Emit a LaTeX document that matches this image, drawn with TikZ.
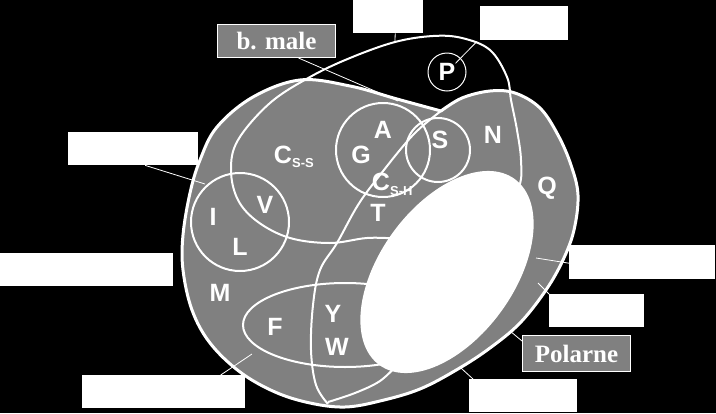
\documentclass[tikz,border=0pt]{standalone}
\usepackage{fontspec}
\setmainfont{Liberation Sans}
\newfontfamily\serifbold{Liberation Serif}
\begin{document}
\begin{tikzpicture}[x=1pt,y=-1pt,
  lab/.style={font=\fontsize{25}{25}\selectfont\bfseries, text=white, inner sep=0pt},
  sublab/.style={font=\fontsize{13}{13}\selectfont\bfseries, text=white, inner sep=0pt},
  blank/.style={fill=white, draw=none, anchor=north west, inner sep=0pt},
  graybox/.style={fill=gray, draw=white, line width=1pt, anchor=north west, inner sep=0pt,
     text=white, font=\fontsize{25}{25}\serifbold\bfseries},
  conn/.style={white, line width=0.8pt},
  setline/.style={white, line width=2pt},
  outline/.style={white, line width=3pt}]
\useasboundingbox (0,0) rectangle (716,413);
\fill[black] (0,0) rectangle (716,413);
% outer blob
\def\outerpts{(441,111) (462,98) (490,91) (515,93) (540,108) (558,135) (571,165) (578,195) (574,230) (563,260) (546,290) (520,323) (490,348) (458,369) (420,389) (380,401) (345,407) (310,403) (275,392) (240,372) (210,343) (192,310) (183,270) (183,235) (190,193) (200,160) (217,127) (253,97) (300,80) (350,86) (397,99) (441,111)}
\fill[gray] plot[smooth, tension=0.6] coordinates {\outerpts} -- cycle;
% small loop
\draw[setline] plot[smooth cycle, tension=0.6] coordinates {(310,77) (350,58) (395,42) (433,36) (462,38) (490,50) (507,77) (511,100) (517,130) (521,160) (519,187) (500,220) (460,235) (400,238) (367,238) (330,243) (290,238) (258,222) (238,200) (231,170) (238,140) (270,103)};
% diagonal
\draw[setline] plot[smooth, tension=0.6] coordinates {(328,404) (316,385) (311,350) (313,305) (320,270) (337,243) (358,205) (380,175) (413,135) (441,111)};
% circles
\draw[setline] (240,222) circle [radius=49];
\draw[setline] (383,150) circle [radius=47];
\draw[setline] (438,150) circle [radius=32];
\draw[setline] (345,325) ellipse [x radius=102, y radius=42];
\draw[setline] plot[smooth, tension=0.6] coordinates {(398,364) (380,381) (355,393) (328,402)};
% white ellipse
\fill[white, rotate around={54:(447,272)}] (447,272) ellipse [x radius=115, y radius=67];
% outer outline
\draw[outline, line join=round] plot[smooth, tension=0.6] coordinates {\outerpts} -- cycle;
% P
\draw[white, line width=1pt] (447,72) circle [radius=19];
\node[lab] (p) at (447,72) {P};
% letters
\node[lab] (a) at (383,130) {A};
\node[lab] (g) at (361,155) {G};
\node[lab] (s) at (440,140) {S};
\node[lab] (n) at (493,135) {N};
\node[lab] (q) at (547,188) {Q};
\node[lab] (css) at (283,155) {C};
\node[sublab, anchor=west] (csss) at (292,163) {S-S};
\node[lab] (csh) at (381,182) {C};
\node[sublab, anchor=west] (cshs) at (390,191) {S-H};
\node[lab] (t) at (378,213) {T};
\node[lab] (v) at (265,205) {V};
\node[lab] (i) at (213,217) {I};
\node[lab] (l) at (240,247) {L};
\node[lab] (m) at (220,293) {M};
\node[lab] (f) at (275,327) {F};
\node[lab] (y) at (333,314) {Y};
\node[lab] (w) at (337,347) {W};
% boxes
\node[blank, minimum width=70pt, minimum height=33pt] (tb) at (353,0) {};
\node[blank, minimum width=88pt, minimum height=34pt] (trb) at (480,6) {};
\node[graybox, minimum width=118pt, minimum height=33pt] (bm) at (217,24) {b. male};
\node[blank, minimum width=130pt, minimum height=33pt] (lb1) at (68,132) {};
\node[blank, minimum width=173pt, minimum height=33pt] (lb2) at (0,253) {};
\node[blank, minimum width=163pt, minimum height=33pt] (blb) at (82,375) {};
\node[blank, minimum width=146pt, minimum height=34pt] (rb1) at (569,245) {};
\node[blank, minimum width=95pt, minimum height=33pt] (rb2) at (549,294) {};
\node[graybox, minimum width=108pt, minimum height=36pt] (pol) at (522,335) {Polarne};
\node[blank, minimum width=108pt, minimum height=33pt] (brb) at (469,379) {};
% connector ends
\coordinate (ctb) at (395,41);
\coordinate (cbm) at (398,101);
\coordinate (clb1) at (205,184);
\coordinate (cblb) at (252,354);
\coordinate (crb1) at (536,258);
\coordinate (crb2) at (538,283);
\coordinate (cpol) at (510,331);
\coordinate (cbrb) at (461,368);
\draw[conn] ([xshift=7pt]tb.south) -- (ctb);
\draw[conn] ([xshift=-3pt,yshift=-1pt]trb.south west) -- (p);
\draw[conn] ([xshift=22pt]bm.south) -- (cbm);
\draw[conn] ([xshift=12pt]lb1.south) -- (clb1);
\draw[conn] ([xshift=57pt]blb.north) -- (cblb);
\draw[conn] ([yshift=-1pt]rb1.west) -- (crb1);
\draw[conn] (rb2.north west) -- (crb2);
\draw[conn] ([yshift=-6pt]pol.north west) -- (cpol);
\draw[conn] ([xshift=4pt]brb.north west) -- (cbrb);
\end{tikzpicture}
\end{document}
